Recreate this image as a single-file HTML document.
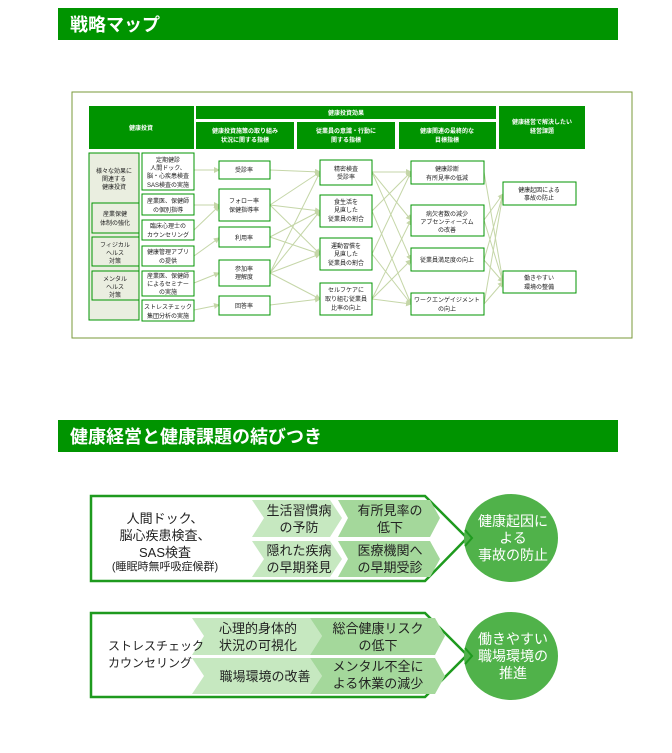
<!DOCTYPE html><html><head><meta charset="utf-8"><style>
body{margin:0;width:672px;height:753px;background:#fff;position:relative;overflow:hidden;font-family:"Liberation Sans","Noto Sans CJK JP",sans-serif}
.bar{position:absolute;left:58px;width:560px;height:32px;background:#009400;color:#fff;font-weight:bold;font-size:18px;line-height:34px;padding-left:12px;box-sizing:border-box}
svg text{font-family:"Liberation Sans","Noto Sans CJK JP",sans-serif}
</style></head><body>
<div class="bar" style="top:8px">戦略マップ</div>
<div class="bar" style="top:420px">健康経営と健康課題の結びつき</div>
<svg width="672" height="753" style="position:absolute;left:0;top:0">
<defs><marker id="a" markerWidth="6" markerHeight="6" refX="5" refY="3" orient="auto"><path d="M0,0L6,3L0,6z" fill="#c5d6a8"/></marker></defs>
<rect x="72" y="92" width="560" height="246" fill="none" stroke="#7a9a3a" stroke-width="1"/>
<g fill="#009400">
<rect x="89" y="106" width="105" height="43"/><rect x="196" y="106" width="300" height="13"/>
<rect x="196" y="122" width="98" height="27"/><rect x="297" y="122" width="98" height="27"/><rect x="399" y="122" width="97" height="27"/>
<rect x="499" y="106" width="86" height="43"/></g>
<g fill="#fff" font-size="6" font-weight="bold" text-anchor="middle">
<text x="141" y="130">健康投資</text><text x="346" y="115">健康投資効果</text>
<text x="245" y="133">健康投資施策の取り組み</text><text x="245" y="142">状況に関する指標</text>
<text x="346" y="133">従業員の意識・行動に</text><text x="346" y="142">関する指標</text>
<text x="447" y="133">健康関連の最終的な</text><text x="447" y="142">目標指標</text>
<text x="542" y="124">健康経営で解決したい</text><text x="542" y="133">経営課題</text></g>
<g stroke="#c5d6a8" stroke-width="1" marker-end="url(#a)" fill="none">
<path d="M194 170L219 170"/><path d="M194 205L219 205"/><path d="M194 230L219 206"/><path d="M194 256L219 238"/><path d="M194 283L219 273"/><path d="M194 310L219 305"/>
<path d="M270 170L320 172"/><path d="M270 205L320 172"/><path d="M270 205L320 211"/><path d="M270 205L320 254"/><path d="M270 237L320 211"/><path d="M270 237L320 254"/><path d="M270 273L320 172"/><path d="M270 273L320 211"/><path d="M270 273L320 254"/><path d="M270 273L320 299"/><path d="M270 305L320 299"/>
<path d="M372 172L411 172"/><path d="M372 172L411 220"/><path d="M372 172L411 260"/><path d="M372 211L411 172"/><path d="M372 211L411 304"/><path d="M372 254L411 172"/><path d="M372 254L411 304"/><path d="M372 299L411 260"/><path d="M372 299L411 220"/><path d="M372 299L411 304"/>
<path d="M484 172L503 282"/><path d="M484 220L503 194"/><path d="M484 220L503 282"/><path d="M484 260L503 194"/><path d="M484 260L503 282"/><path d="M484 304L503 194"/><path d="M484 304L503 282"/></g>
<g fill="#fff" stroke="#009400" stroke-width="1">
<rect x="89" y="153" width="50" height="167" fill="#eaeee0"/>
<rect x="92" y="203" width="47" height="30" fill="#eaeee0"/><rect x="92" y="237" width="47" height="29" fill="#eaeee0"/><rect x="92" y="271" width="47" height="29" fill="#eaeee0"/>
<rect x="142" y="153" width="52" height="37"/><rect x="142" y="194" width="52" height="21"/><rect x="142" y="220" width="52" height="20"/><rect x="142" y="246" width="52" height="20"/><rect x="142" y="271" width="52" height="25"/><rect x="142" y="300" width="52" height="21"/>
<rect x="219" y="161" width="51" height="18"/><rect x="219" y="189" width="51" height="32"/><rect x="219" y="227" width="51" height="20"/><rect x="219" y="260" width="51" height="26"/><rect x="219" y="296" width="51" height="19"/>
<rect x="320" y="160" width="52" height="25"/><rect x="320" y="195" width="52" height="32"/><rect x="320" y="238" width="52" height="32"/><rect x="320" y="283" width="52" height="32"/>
<rect x="411" y="161" width="73" height="23"/><rect x="411" y="205" width="73" height="31"/><rect x="411" y="248" width="73" height="23"/><rect x="411" y="293" width="73" height="22"/>
<rect x="503" y="182" width="73" height="23"/><rect x="503" y="271" width="73" height="22"/></g>
<g fill="#222" font-size="6" text-anchor="middle">
<text x="114" y="173">様々な効果に</text><text x="114" y="181">関連する</text><text x="114" y="189">健康投資</text>
<text x="115" y="216">産業保健</text><text x="115" y="225">体制の強化</text>
<text x="115" y="247">フィジカル</text><text x="115" y="255">ヘルス</text><text x="115" y="263">対策</text>
<text x="115" y="281">メンタル</text><text x="115" y="289">ヘルス</text><text x="115" y="297">対策</text>
<text x="168" y="162">定期健診</text><text x="168" y="170">人間ドック、</text><text x="168" y="178">脳・心疾患検査</text><text x="168" y="187">SAS検査の実施</text>
<text x="168" y="203">産業医、保健師</text><text x="168" y="212">の個別指導</text>
<text x="168" y="228">臨床心理士の</text><text x="168" y="237">カウンセリング</text>
<text x="168" y="254">健康管理アプリ</text><text x="168" y="263">の提供</text>
<text x="168" y="278">産業医、保健師</text><text x="168" y="286">によるセミナー</text><text x="168" y="294">の実施</text>
<text x="168" y="309">ストレスチェック</text><text x="168" y="318">集団分析の実施</text>
<text x="244" y="172">受診率</text><text x="244" y="203">フォロー率</text><text x="244" y="212">保健指導率</text><text x="244" y="240">利用率</text><text x="244" y="271">参加率</text><text x="244" y="279">理解度</text><text x="244" y="308">回答率</text>
<text x="346" y="171">精密検査</text><text x="346" y="179">受診率</text>
<text x="346" y="204">食生活を</text><text x="346" y="212">見直した</text><text x="346" y="221">従業員の割合</text>
<text x="346" y="248">運動習慣を</text><text x="346" y="256">見直した</text><text x="346" y="265">従業員の割合</text>
<text x="346" y="292">セルフケアに</text><text x="346" y="301">取り組む従業員</text><text x="346" y="310">比率の向上</text>
<text x="447" y="171">健康診断</text><text x="447" y="180">有所見率の低減</text>
<text x="447" y="216">病欠者数の減少</text><text x="447" y="224">アブセンティーズム</text><text x="447" y="232">の改善</text>
<text x="447" y="262">従業員満足度の向上</text>
<text x="447" y="302">ワークエンゲイジメント</text><text x="447" y="311">の向上</text>
<text x="539" y="192">健康起因による</text><text x="539" y="200">事故の防止</text>
<text x="539" y="280">働きやすい</text><text x="539" y="289">環境の整備</text></g>
<g stroke="#1e9a1e" stroke-width="2.5" fill="#fff">
<path d="M91 496H425L467 538L425 581H91Z"/><path d="M91 613H425L467 655L425 697H91Z"/></g>
<g fill="#c6e8c0"><path d="M252 500H330L342 518L330 537H252L264 518Z"/><path d="M252 541H330L342 559L330 577H252L264 559Z"/>
<path d="M192 618H310L322 636L310 655H192L204 636Z"/><path d="M192 658H310L322 676L310 694H192L204 676Z"/></g>
<g fill="#a4d89b"><path d="M338 500H430L440 518L430 537H338L348 518Z"/><path d="M338 541H430L440 559L430 577H338L348 559Z"/>
<path d="M310 618H435L445 636L435 655H310L322 636Z"/><path d="M310 658H435L445 676L435 694H310L322 676Z"/></g>
<ellipse cx="511" cy="538" rx="47" ry="44" fill="#50b24a"/><ellipse cx="511" cy="656" rx="47" ry="44" fill="#50b24a"/>
<path d="M465 530L472 538L465 546" stroke="#1e9a1e" stroke-width="2" fill="none"/><path d="M465 648L472 656L465 664" stroke="#1e9a1e" stroke-width="2" fill="none"/>
<g font-size="13" fill="#222" text-anchor="middle">
<text x="165" y="523">人間ドック、</text><text x="165" y="540">脳心疾患検査、</text><text x="165" y="557">SAS検査</text><text x="165" y="570" font-size="11">(睡眠時無呼吸症候群)</text>
<text x="299" y="515">生活習慣病</text><text x="299" y="532">の予防</text><text x="390" y="515">有所見率の</text><text x="390" y="532">低下</text>
<text x="299" y="555">隠れた疾病</text><text x="299" y="572">の早期発見</text><text x="390" y="555">医療機関へ</text><text x="390" y="572">の早期受診</text>
<text x="108" y="650" text-anchor="start" font-size="12">ストレスチェック</text><text x="108" y="667" text-anchor="start" font-size="12">カウンセリング</text>
<text x="258" y="633">心理的身体的</text><text x="258" y="650">状況の可視化</text><text x="378" y="633">総合健康リスク</text><text x="378" y="650">の低下</text>
<text x="265" y="681">職場環境の改善</text><text x="378" y="671">メンタル不全に</text><text x="378" y="688">よる休業の減少</text></g>
<g font-size="14" fill="#fff" text-anchor="middle">
<text x="513" y="526">健康起因に</text><text x="513" y="543">よる</text><text x="513" y="560">事故の防止</text>
<text x="513" y="644">働きやすい</text><text x="513" y="661">職場環境の</text><text x="513" y="678">推進</text></g>
</svg>
</body></html>
